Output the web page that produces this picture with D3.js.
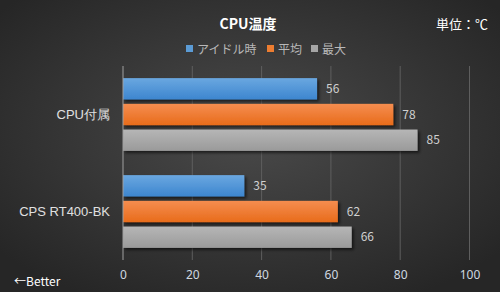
<!DOCTYPE html>
<html>
<head>
<meta charset="utf-8">
<script src="https://cdn.jsdelivr.net/npm/d3@7"></script>
<style>
  body { margin: 0; background: #333; }
  svg { display: block; font-family: "Noto Sans CJK JP", "Noto Sans", sans-serif; }
</style>
</head>
<body>
<div id="chart"></div>
<script>
// data
const categories = ["CPU付属", "CPS RT400-BK"];
const seriesNames = ["アイドル時", "平均", "最大"];
const idleValues = [56, 35];
const avgValues = [78, 62];
const maxValues = [85, 66];
const xTicks = [0, 20, 40, 60, 80, 100];

const seriesValues = [idleValues, avgValues, maxValues];
const colors = [
    { top: "#6aa7e0", bottom: "#3d86cf", key: "#5b9bd5" },
    { top: "#f58d4f", bottom: "#e86c1b", key: "#ed7d31" },
    { top: "#b6b6b6", bottom: "#9a9a9a", key: "#a5a5a5" }
];

const W = 500, H = 292;
const margin = { left: 123, right: 31, top: 66, bottom: 32 };
const width = W - margin.left - margin.right;
const height = H - margin.top - margin.bottom;

const svg = d3.select("#chart").append("svg")
    .attr("width", W)
    .attr("height", H);

const defs = svg.append("defs");
const bg = defs.append("radialGradient").attr("id", "bg")
    .attr("cx", "50%").attr("cy", "45%").attr("r", "65%");
bg.append("stop").attr("offset", "0%").attr("stop-color", "#4a4a4a");
bg.append("stop").attr("offset", "100%").attr("stop-color", "#262626");

colors.forEach(function (c, i) {
    let g = defs.append("linearGradient").attr("id", "bar" + i)
        .attr("x1", 0).attr("y1", 0).attr("x2", 0).attr("y2", 1);
    g.append("stop").attr("offset", "0%").attr("stop-color", c.top);
    g.append("stop").attr("offset", "100%").attr("stop-color", c.bottom);
});

const shadow = defs.append("filter").attr("id", "shadow")
    .attr("x", "-5%").attr("y", "-20%").attr("width", "115%").attr("height", "160%");
shadow.append("feDropShadow")
    .attr("dx", 2).attr("dy", 2).attr("stdDeviation", 1.5)
    .attr("flood-color", "#000").attr("flood-opacity", 0.6);

svg.append("rect").attr("width", W).attr("height", H).attr("fill", "url(#bg)");

const g = svg.append("g").attr("transform", `translate(${margin.left},${margin.top})`);

// scales
const x = d3.scaleLinear().domain([0, 100]).range([0, width + 0.5]);
const y0 = d3.scaleBand().domain(categories).range([0, height]).paddingInner(0.25).paddingOuter(0.125);
const y1 = d3.scaleBand().domain(d3.range(seriesNames.length)).range([0, y0.bandwidth()]).paddingInner(0.17);

// gridlines
g.selectAll(".grid").data(xTicks.slice(1)).enter().append("line")
    .attr("x1", d => x(d)).attr("x2", d => x(d))
    .attr("y1", 0).attr("y2", height)
    .attr("stroke", "#5e5e5e").attr("stroke-width", 1);

// bars
categories.forEach(function (cat, ci) {
    seriesValues.forEach(function (vals, si) {
        g.append("rect")
            .attr("x", 0)
            .attr("y", y0(cat) + y1(si))
            .attr("width", x(vals[ci]))
            .attr("height", y1.bandwidth())
            .attr("fill", "url(#bar" + si + ")")
            .attr("filter", "url(#shadow)");
        g.append("text")
            .attr("x", x(vals[ci]) + 9)
            .attr("y", y0(cat) + y1(si) + y1.bandwidth() / 2)
            .attr("dy", "0.35em")
            .attr("fill", "#d0d0d0")
            .attr("font-size", "12px")
            .text(vals[ci]);
    });
});

// axis line
g.append("line").attr("x1", 0).attr("x2", 0).attr("y1", 0).attr("y2", height)
    .attr("stroke", "#a0a0a0").attr("stroke-width", 1);

// x axis
const xAxis = g.append("g")
    .attr("transform", `translate(0,${height})`)
    .call(d3.axisBottom(x).tickValues(xTicks).tickSize(0).tickPadding(10));
xAxis.select(".domain").remove();
xAxis.selectAll("text").attr("fill", "#cfd8e0").attr("font-size", "12px")
    .attr("font-family", "'Noto Sans', sans-serif");

// y axis labels
const yAxis = g.append("g")
    .call(d3.axisLeft(y0).tickSize(0).tickPadding(13));
yAxis.select(".domain").remove();
yAxis.selectAll("text").attr("fill", "#e0e0e0").attr("font-size", "13px");

// title
svg.append("text")
    .attr("x", 248).attr("y", 29)
    .attr("text-anchor", "middle")
    .attr("fill", "#ffffff")
    .attr("font-size", "14px")
    .attr("font-weight", "bold")
    .text("CPU温度");

svg.append("text")
    .attr("x", 488).attr("y", 29)
    .attr("text-anchor", "end")
    .attr("fill", "#ffffff")
    .attr("font-size", "13px")
    .text("単位：℃");

// legend
const legendX = [186, 267, 311];
seriesNames.forEach(function (name, i) {
    svg.append("rect")
        .attr("x", legendX[i]).attr("y", 45)
        .attr("width", 7).attr("height", 7)
        .attr("fill", colors[i].key);
    svg.append("text")
        .attr("x", legendX[i] + 11).attr("y", 53.5)
        .attr("fill", "#b8b8b8")
        .attr("font-size", "12px")
        .text(name);
});

svg.append("text")
    .attr("x", 14).attr("y", 286)
    .attr("fill", "#ffffff")
    .attr("font-size", "12px")
    .text("←Better");
</script>
</body>
</html>
